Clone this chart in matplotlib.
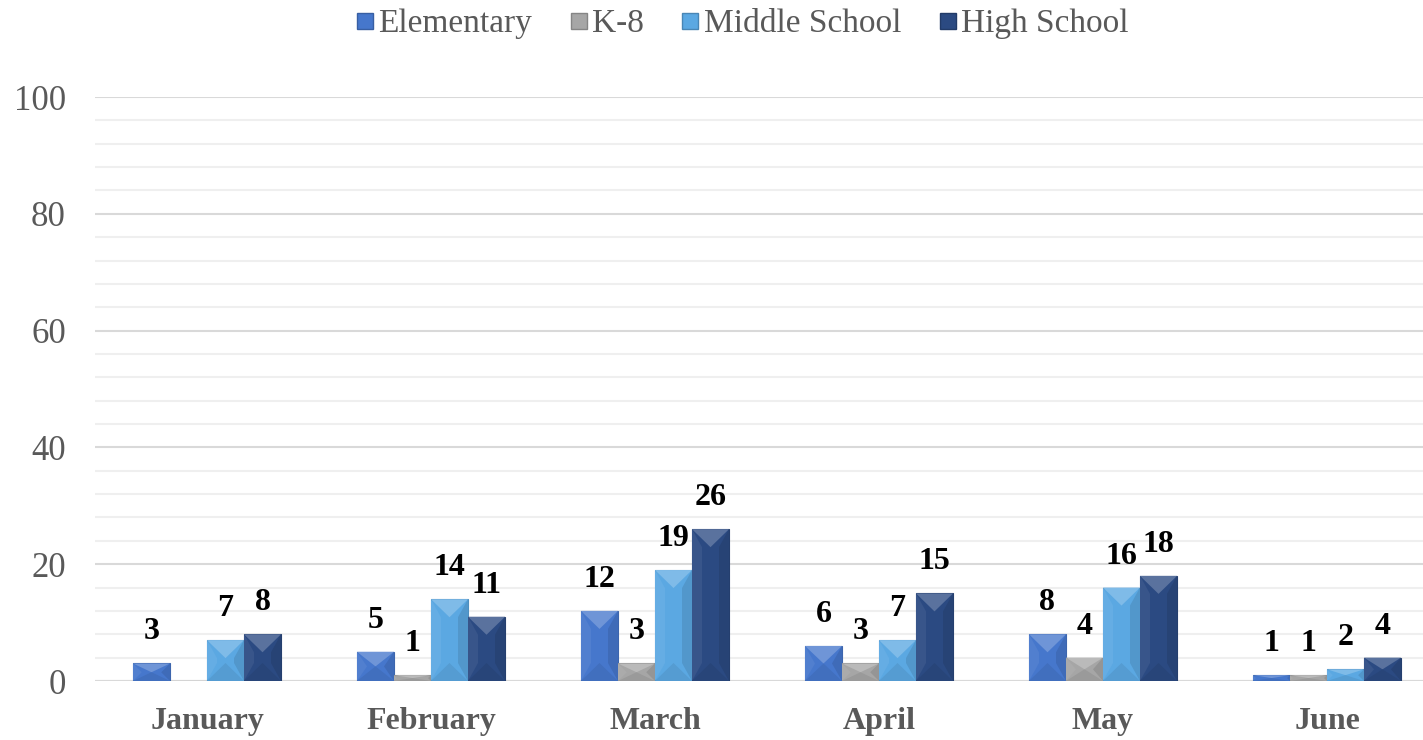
import numpy as np
import matplotlib
matplotlib.use("Agg")
import matplotlib.pyplot as plt
from matplotlib.patches import Polygon
from matplotlib.lines import Line2D
import matplotlib.colors as mcolors

months = ["January", "February", "March", "April", "May", "June"]
series = ["Elementary", "K-8", "Middle School", "High School"]
elementary = [3, 5, 12, 6, 8, 1]
k8 = [0, 1, 3, 3, 4, 1]
middle = [7, 14, 19, 7, 16, 2]
high = [8, 11, 26, 15, 18, 4]
colors = ["#4677cc", "#a6a6a6", "#5ba8e2", "#2b4a82"]

plt.rcParams['font.family'] = ['Liberation Serif', 'DejaVu Serif']

fig = plt.figure(figsize=(14.23, 7.4), dpi=100)
ax = fig.add_axes([95 / 1423, (740 - 681) / 740, 1344 / 1423, 584 / 740])

ax.set_xlim(-0.5, 5.5)
ax.set_ylim(0, 100)
ax.set_yticks(range(0, 101, 20))
ax.set_yticks(range(0, 101, 4), minor=True)
ax.grid(axis='y', which='major', color='#d9d9d9', lw=1.5)
ax.grid(axis='y', which='minor', color='#efefef', lw=1.5)
ax.set_axisbelow(True)
for s in ax.spines.values():
    s.set_visible(False)
ax.axhline(0, color='#d9d9d9', lw=1.5, zorder=1)
ax.tick_params(axis='both', which='both', length=0)
ax.tick_params(axis='y', labelsize=25, labelcolor='#595959', pad=21)
ax.set_xticks(range(len(months)))
ax.set_xticklabels(months, fontsize=23, fontweight='bold', color='#595959')
ax.tick_params(axis='x', pad=19)

# pixel -> data scale for bevel effects
px_x = 1.0 / 224
px_y = 100.0 / 584

width = 37 * px_x
x = np.arange(len(months))
data = [elementary, k8, middle, high]


def shade(c, f):
    r, g, b = mcolors.to_rgb(c)
    if f > 0:
        return (r + (1 - r) * f, g + (1 - g) * f, b + (1 - b) * f)
    return (r * (1 + f), g * (1 + f), b * (1 + f))


for i, vals in enumerate(data):
    xs = x + (i - 1.5) * width
    bars = ax.bar(xs, vals, width=width, color=colors[i], edgecolor=shade(colors[i], -0.15),
                  lw=0.8, zorder=2)
    for b, v in zip(bars, vals):
        if v == 0:
            continue
        x0 = b.get_x()
        x1 = x0 + b.get_width()
        xc = (x0 + x1) / 2
        top = b.get_height()
        hpx = top / px_y
        d = min(18, hpx / 2) * px_y
        sw = min(10, hpx / 2) * px_x
        c = colors[i]
        # side strips
        ax.add_patch(Polygon([(x0, top), (x0 + sw, top - d), (x0 + sw, d), (x0, 0)],
                             closed=True, color=shade(c, 0.06), lw=0, zorder=2.1))
        ax.add_patch(Polygon([(x1, top), (x1 - sw, top - d), (x1 - sw, d), (x1, 0)],
                             closed=True, color=shade(c, -0.1), lw=0, zorder=2.1))
        # top and bottom faces
        ax.add_patch(Polygon([(x0, top), (x1, top), (xc, top - d)],
                             closed=True, color=shade(c, 0.22), lw=0, zorder=2.2))
        ax.add_patch(Polygon([(x0, 0), (x1, 0), (xc, d)],
                             closed=True, color=shade(c, -0.07), lw=0, zorder=2.2))
        ax.annotate(str(v), (xc, top), xytext=(0, 17), textcoords='offset pixels',
                    ha='center', va='bottom', fontsize=23, fontweight='bold',
                    color='black', zorder=3)

handles = [Line2D([], [], marker='s', ls='none', markersize=11,
                  markerfacecolor=c, markeredgecolor=shade(c, -0.2)) for c in colors]
fig.legend(handles, series, loc='center', bbox_to_anchor=(740 / 1423, 1 - 24 / 740),
           ncol=4, frameon=False, fontsize=24, labelcolor='#595959',
           handletextpad=0.0, columnspacing=1.0, handlelength=0.8)

fig.savefig("out.png", dpi=100)
